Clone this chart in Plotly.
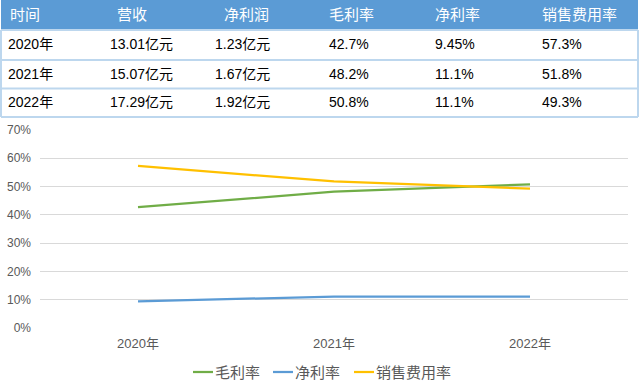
import plotly.graph_objects as go

# ---------------- data ----------------
years = ["2020年", "2021年", "2022年"]
revenue = ["13.01亿元", "15.07亿元", "17.29亿元"]
net_profit = ["1.23亿元", "1.67亿元", "1.92亿元"]
gross_margin = [42.7, 48.2, 50.8]
net_margin = [9.45, 11.1, 11.1]
selling_rate = [57.3, 51.8, 49.3]
headers = ["时间", "营收", "净利润", "毛利率", "净利率", "销售费用率"]
series_names = ["毛利率", "净利率", "销售费用率"]
y_ticks = [0, 10, 20, 30, 40, 50, 60, 70]

# ---------------- style ----------------
W, H = 640, 389
L, R, T, B = 40, 12, 130, 61
PW, PH = W - L - R, H - T - B
GREEN, BLUE, YELLOW = "#70ad47", "#5b9bd5", "#ffc000"
HEAD_BLUE = "#5b9bd5"
BORDER = "#bdd7ee"
FONT = "Liberation Sans, Noto Sans CJK SC, sans-serif"


def fx(x):
    return (x - L) / PW


def fy(y):
    return (H - B - y) / PH


fig = go.Figure()
colors = [GREEN, BLUE, YELLOW]
for name, vals, c in zip(series_names, [gross_margin, net_margin, selling_rate], colors):
    fig.add_trace(go.Scatter(x=years, y=vals, mode="lines", name=name,
                             line=dict(color=c, width=2.25), showlegend=False,
                             hoverinfo="skip"))

shapes = []
annos = []

# table header
shapes.append(dict(type="rect", xref="paper", yref="paper", x0=fx(1), x1=fx(638),
                   y0=fy(0), y1=fy(30), fillcolor=HEAD_BLUE, line=dict(width=0), layer="below"))
# horizontal borders
for yy in [30, 60, 88.5, 117]:
    shapes.append(dict(type="line", xref="paper", yref="paper", x0=fx(1), x1=fx(638),
                       y0=fy(yy), y1=fy(yy), line=dict(color=BORDER, width=2)))
for xx in [1, 638]:
    shapes.append(dict(type="line", xref="paper", yref="paper", x0=fx(xx), x1=fx(xx),
                       y0=fy(30), y1=fy(117), line=dict(color=BORDER, width=2)))

head_x = [8, 115, 222, 327, 433, 540]
cell_x = [6, 108, 213, 327, 433, 540]
for hx, h in zip(head_x, headers):
    annos.append(dict(xref="paper", yref="paper", x=fx(hx), y=fy(15), text=h,
                      showarrow=False, xanchor="left", yanchor="middle",
                      font=dict(family=FONT, size=15, color="white")))

row_y = [44.5, 73.5, 102]
for i in range(len(years)):
    row = [years[i], revenue[i], net_profit[i],
           f"{gross_margin[i]}%", f"{net_margin[i]}%", f"{selling_rate[i]}%"]
    for cx, t in zip(cell_x, row):
        annos.append(dict(xref="paper", yref="paper", x=fx(cx), y=fy(row_y[i]), text=t,
                          showarrow=False, xanchor="left", yanchor="middle",
                          font=dict(family=FONT, size=14, color="#000000")))

# custom legend
leg_x = [193, 273, 354]
for lx, name, c in zip(leg_x, series_names, colors):
    shapes.append(dict(type="line", xref="paper", yref="paper", x0=fx(lx), x1=fx(lx + 20),
                       y0=fy(372), y1=fy(372), line=dict(color=c, width=2.25)))
    annos.append(dict(xref="paper", yref="paper", x=fx(lx + 20), y=fy(372), text=name,
                      showarrow=False, xanchor="left", yanchor="middle",
                      font=dict(family=FONT, size=15, color="#595959")))

fig.update_layout(
    width=W, height=H,
    margin=dict(l=L, r=R, t=T, b=B, pad=0, autoexpand=False),
    paper_bgcolor="white", plot_bgcolor="white",
    shapes=shapes, annotations=annos,
    showlegend=False,
    xaxis=dict(type="category", showgrid=False, showline=False, zeroline=False,
               ticks="", automargin=False, ticklabelstandoff=6,
               tickfont=dict(family=FONT, size=13, color="#595959"),
               range=[-0.5, 2.5]),
    yaxis=dict(range=[0, 70], tickvals=y_ticks, ticktext=[f"{v}%" for v in y_ticks],
               showgrid=True, gridcolor="#d9d9d9", gridwidth=1, zeroline=False,
               showline=False, ticks="", ticklabelstandoff=8, automargin=False,
               tickfont=dict(family=FONT, size=12, color="#595959")),
)
fig.write_html("out.html",
               post_script="document.body.style.margin='0';document.body.style.padding='0';",
               config={"displayModeBar": False})
